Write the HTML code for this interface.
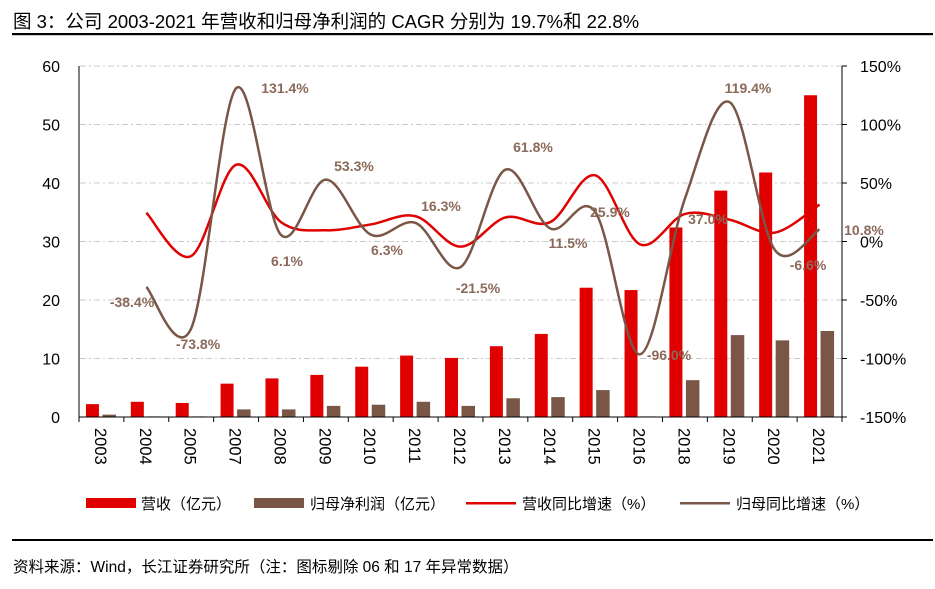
<!DOCTYPE html>
<html><head><meta charset="utf-8"><style>
body{margin:0;background:#fff}
svg text{font-family:"Liberation Sans","Noto Sans CJK SC",sans-serif}
</style></head><body>
<svg id="s" width="935" height="584" xmlns="http://www.w3.org/2000/svg">
<text x="13" y="28" font-size="18.5" fill="#000">图 3：公司 2003-2021 年营收和归母净利润的 CAGR 分别为 19.7%和 22.8%</text>
<rect x="12" y="33" width="921" height="2.2" fill="#000"/>
<g id="grid"></g>
<g id="bars"></g>
<g id="lines"></g>
<line x1="79" y1="66" x2="79" y2="417" stroke="#000" stroke-width="1"/>
<line x1="842" y1="66" x2="842" y2="417" stroke="#000" stroke-width="1"/>
<line x1="79" y1="417" x2="842" y2="417" stroke="#000" stroke-width="1"/>
<g id="labels"></g>
<rect x="86" y="498" width="50" height="10" fill="#e00000"/>
<text x="141" y="509" font-size="15">营收（亿元）</text>
<rect x="254" y="498" width="50" height="10" fill="#7a5646"/>
<text x="310" y="509" font-size="15">归母净利润（亿元）</text>
<rect x="466" y="502" width="50" height="2.5" fill="#e00000"/>
<text x="522" y="509" font-size="15">营收同比增速（%）</text>
<rect x="680" y="502" width="50" height="2.5" fill="#7a5646"/>
<text x="736" y="509" font-size="15">归母同比增速（%）</text>
<rect x="12" y="539" width="921" height="2" fill="#000"/>
<text x="13" y="572" font-size="15.5">资料来源：Wind，长江证券研究所（注：图标剔除 06 和 17 年异常数据）</text>
</svg>
<script>
const NS="http://www.w3.org/2000/svg";
function el(p,t,a,txt){const e=document.createElementNS(NS,t);for(const k in a)e.setAttribute(k,a[k]);if(txt!==undefined)e.textContent=txt;document.getElementById(p).appendChild(e);return e;}
const yrs=["2003","2004","2005","2007","2008","2009","2010","2011","2012","2013","2014","2015","2016","2018","2019","2020","2021"];
const rev=[2.2,2.6,2.4,5.7,6.6,7.2,8.6,10.5,10.1,12.1,14.2,22.1,21.7,32.4,38.7,41.8,55.0];
const prof=[0.4,0.1,0.1,1.3,1.3,1.9,2.1,2.6,1.9,3.2,3.4,4.6,0.1,6.3,14.0,13.1,14.7];
const rg=[null,25,-12,66,17,10,15,22,-4,21,17,57,-2,24,19,8,32];
const pg=[null,-38.4,-73.8,131.4,6.1,53.3,6.3,16.3,-21.5,61.8,11.5,25.9,-96.0,37.0,119.4,-6.6,10.8];
const X0=79,W=(842-79)/17,yL=v=>417-v*351/60,yR=v=>242-v*351/300,cx=i=>X0+W*(i+0.5);
for(let k=0;k<=6;k++){const y=417-k*58.5;
 if(k>0)el("grid","line",{x1:80,x2:842,y1:y,y2:y,stroke:"#c8c8c8","stroke-dasharray":"6,3,2,3"});
 el("grid","text",{x:60,y:y+6,"font-size":16,"text-anchor":"end"},String(k*10));
 el("grid","text",{x:860,y:y+6,"font-size":16},(-150+k*50)+"%");
 el("grid","line",{x1:842,x2:847,y1:y,y2:y,stroke:"#000"});}
for(let i=0;i<=17;i++){const x=X0+W*i;el("grid","line",{x1:x,x2:x,y1:417,y2:422,stroke:"#000"});}
yrs.forEach((t,i)=>{const x=cx(i);
 el("bars","rect",{x:x-15.5,y:yL(rev[i]),width:13,height:417-yL(rev[i]),fill:"#e00000"});
 el("bars","rect",{x:x+1,y:yL(prof[i]),width:13.5,height:417-yL(prof[i]),fill:"#7a5646"});
 el("labels","text",{transform:`translate(${x-6.5},428) rotate(90)`,"font-size":16.5},t);});
function path(vals){const p=[];vals.forEach((v,i)=>{if(v!==null)p.push([cx(i),yR(v)])});
 let d=`M${p[0][0]},${p[0][1]}`;for(let i=0;i<p.length-1;i++){const a=p[Math.max(0,i-1)],b=p[i],c=p[i+1],e=p[Math.min(p.length-1,i+2)];
 d+=` C${b[0]+(c[0]-a[0])/6},${b[1]+(c[1]-a[1])/6} ${c[0]-(e[0]-b[0])/6},${c[1]-(e[1]-b[1])/6} ${c[0]},${c[1]}`;}return d;}
el("lines","path",{d:path(rg),fill:"none",stroke:"#e00000","stroke-width":2.5});
el("lines","path",{d:path(pg),fill:"none",stroke:"#7a5646","stroke-width":2.5});
const L=[["131.4%",285,88],["-38.4%",132,302],["-73.8%",198,344],["6.1%",287,261],["53.3%",354,166],["6.3%",387,250],["16.3%",441,206],["-21.5%",478,288],["61.8%",533,147],["11.5%",568,243],["25.9%",610,212],["-96.0%",669,355],["37.0%",708,219],["119.4%",748,88],["-6.6%",808,265],["10.8%",864,230]];
L.forEach(([t,x,y])=>el("labels","text",{x:x,y:y+5,"font-size":14,"font-weight":"bold",fill:"#8b6a5a","text-anchor":"middle"},t));
</script>
</body></html>
